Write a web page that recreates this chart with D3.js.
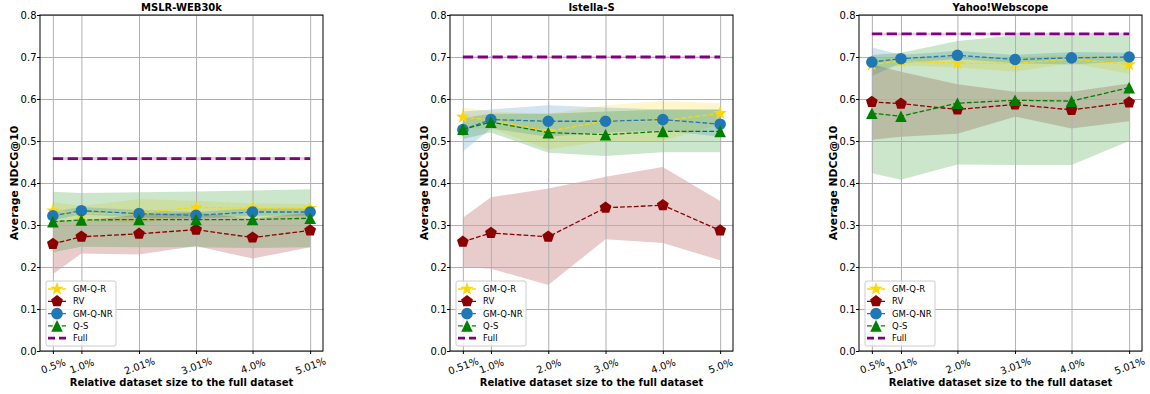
<!DOCTYPE html>
<html>
<head>
<meta charset="utf-8">
<script src="https://cdn.jsdelivr.net/npm/d3@7"></script>
<style>
  body { margin: 0; background: white; }
  svg text { font-family: "DejaVu Sans", sans-serif; }
</style>
</head>
<body>
<script>
// panel titles, x values and tick labels
var panelTitles = ["MSLR-WEB30k", "Istella-S", "Yahoo!Webscope"];
var xValues = [
  [0.5, 1.0, 2.01, 3.01, 4.0, 5.01],
  [0.51, 1.0, 2.0, 3.0, 4.0, 5.0],
  [0.5, 1.01, 2.0, 3.01, 4.0, 5.01]
];
var xTickLabels = [
  ["0.5%", "1.0%", "2.01%", "3.01%", "4.0%", "5.01%"],
  ["0.51%", "1.0%", "2.0%", "3.0%", "4.0%", "5.0%"],
  ["0.5%", "1.01%", "2.0%", "3.01%", "4.0%", "5.01%"]
];
var yTicks = [0.0, 0.1, 0.2, 0.3, 0.4, 0.5, 0.6, 0.7, 0.8];

// GM-Q-R
var gmqrMean = [
  [0.334, 0.327, 0.329, 0.342, 0.340, 0.340],
  [0.557, 0.550, 0.523, 0.548, 0.548, 0.566],
  [0.682, 0.690, 0.685, 0.685, 0.695, 0.682]
];
var gmqrLow = [
  [0.310, 0.310, 0.305, 0.320, 0.318, 0.320],
  [0.530, 0.530, 0.480, 0.500, 0.500, 0.540],
  [0.670, 0.680, 0.675, 0.665, 0.685, 0.660]
];
var gmqrHigh = [
  [0.355, 0.345, 0.362, 0.358, 0.352, 0.350],
  [0.580, 0.570, 0.565, 0.585, 0.595, 0.590],
  [0.695, 0.700, 0.700, 0.700, 0.705, 0.700]
];

// RV
var rvMean = [
  [0.255, 0.272, 0.279, 0.289, 0.270, 0.287],
  [0.260, 0.281, 0.272, 0.341, 0.347, 0.287],
  [0.593, 0.589, 0.575, 0.587, 0.574, 0.592]
];
var rvLow = [
  [0.183, 0.232, 0.230, 0.250, 0.220, 0.247],
  [0.200, 0.196, 0.157, 0.266, 0.257, 0.216],
  [0.503, 0.510, 0.517, 0.558, 0.530, 0.547]
];
var rvHigh = [
  [0.310, 0.310, 0.325, 0.330, 0.315, 0.330],
  [0.317, 0.366, 0.387, 0.415, 0.438, 0.357],
  [0.683, 0.665, 0.635, 0.617, 0.617, 0.637]
];

// GM-Q-NR
var gmqnrMean = [
  [0.322, 0.334, 0.327, 0.323, 0.331, 0.331],
  [0.527, 0.551, 0.547, 0.547, 0.551, 0.540],
  [0.688, 0.696, 0.704, 0.694, 0.698, 0.700]
];
var gmqnrLow = [
  [0.312, 0.325, 0.318, 0.315, 0.322, 0.322],
  [0.475, 0.530, 0.510, 0.520, 0.525, 0.510],
  [0.655, 0.685, 0.695, 0.685, 0.682, 0.690]
];
var gmqnrHigh = [
  [0.332, 0.343, 0.336, 0.331, 0.340, 0.340],
  [0.570, 0.575, 0.585, 0.580, 0.575, 0.575],
  [0.723, 0.705, 0.715, 0.705, 0.712, 0.710]
];

// Q-S
var qsMean = [
  [0.308, 0.312, 0.313, 0.313, 0.313, 0.316],
  [0.528, 0.545, 0.520, 0.515, 0.523, 0.523],
  [0.566, 0.559, 0.590, 0.597, 0.595, 0.627]
];
var qsLow = [
  [0.235, 0.248, 0.247, 0.247, 0.245, 0.247],
  [0.505, 0.520, 0.472, 0.464, 0.473, 0.473],
  [0.423, 0.408, 0.444, 0.443, 0.443, 0.500]
];
var qsHigh = [
  [0.379, 0.376, 0.378, 0.380, 0.382, 0.385],
  [0.555, 0.565, 0.565, 0.570, 0.575, 0.575],
  [0.705, 0.710, 0.738, 0.752, 0.752, 0.752]
];

// Full dataset reference
var fullValue = [0.458, 0.700, 0.755];
var fullSpread = [0.004, 0.002, 0.003];

var seriesNames = ["GM-Q-R", "RV", "GM-Q-NR", "Q-S", "Full"];

var W = 1150, H = 394;
var panelLeft = [40, 450, 859];
var panelWidth = 283;
var plotTop = 15, plotBottom = 351;

var svg = d3.select("body").append("svg")
  .attr("width", W)
  .attr("height", H);

// marker shapes, like matplotlib's * p o ^
function polyPath(pts) {
  return "M" + pts.map(function(p) { return p[0].toFixed(2) + "," + p[1].toFixed(2); }).join("L") + "Z";
}
function starPath(r) {
  var pts = [];
  for (var i = 0; i < 10; i++) {
    var rr = i % 2 == 0 ? r : r * 0.382;
    var a = -Math.PI / 2 + i * Math.PI / 5;
    pts.push([rr * Math.cos(a), rr * Math.sin(a)]);
  }
  return polyPath(pts);
}
function pentPath(r) {
  var pts = [];
  for (var i = 0; i < 5; i++) {
    var a = -Math.PI / 2 + i * 2 * Math.PI / 5;
    pts.push([r * Math.cos(a), r * Math.sin(a)]);
  }
  return polyPath(pts);
}
function triPath(r) {
  return polyPath([[0, -r], [-r, r], [r, r]]);
}
function circPath(r) {
  return "M" + r + ",0A" + r + "," + r + " 0 1,1 " + (-r) + ",0A" + r + "," + r + " 0 1,1 " + r + ",0Z";
}

var series = [
  { name: "GM-Q-R", color: "#FFD700", mean: gmqrMean, low: gmqrLow, high: gmqrHigh, shape: starPath(7.2) },
  { name: "RV", color: "#8B0000", mean: rvMean, low: rvLow, high: rvHigh, shape: pentPath(6.2) },
  { name: "GM-Q-NR", color: "#1f77b4", mean: gmqnrMean, low: gmqnrLow, high: gmqnrHigh, shape: circPath(5.8) },
  { name: "Q-S", color: "#008000", mean: qsMean, low: qsLow, high: qsHigh, shape: triPath(5.8) }
];
var fullColor = "#800080";

panelTitles.forEach(function(title, p) {
  var xs = xValues[p];
  var span = xs[xs.length - 1] - xs[0];
  var x = d3.scaleLinear()
    .domain([xs[0] - span * 0.05, xs[xs.length - 1] + span * 0.05])
    .range([panelLeft[p], panelLeft[p] + panelWidth]);
  var y = d3.scaleLinear().domain([0, 0.8]).range([plotBottom, plotTop]);

  var g = svg.append("g");

  // bands first
  series.forEach(function(s) {
    var area = d3.area()
      .x(function(d, i) { return x(xs[i]); })
      .y0(function(d, i) { return y(s.low[p][i]); })
      .y1(function(d, i) { return y(s.high[p][i]); });
    g.append("path")
      .attr("d", area(xs))
      .attr("fill", s.color)
      .attr("fill-opacity", 0.2);
  });
  var fullArea = d3.area()
    .x(function(d) { return x(d); })
    .y0(y(fullValue[p] - fullSpread[p]))
    .y1(y(fullValue[p] + fullSpread[p]));
  g.append("path")
    .attr("d", fullArea([xs[0], xs[xs.length - 1]]))
    .attr("fill", fullColor)
    .attr("fill-opacity", 0.2);

  // grid
  g.append("g")
    .attr("transform", "translate(0," + plotBottom + ")")
    .call(d3.axisBottom(x).tickValues(xs).tickSize(-(plotBottom - plotTop)).tickFormat(""))
    .call(function(a) { a.select(".domain").remove(); })
    .selectAll("line").attr("stroke", "#b0b0b0").attr("stroke-width", 1);
  g.append("g")
    .attr("transform", "translate(" + panelLeft[p] + ",0)")
    .call(d3.axisLeft(y).tickValues(yTicks).tickSize(-panelWidth).tickFormat(""))
    .call(function(a) { a.select(".domain").remove(); })
    .selectAll("line").attr("stroke", "#b0b0b0").attr("stroke-width", 1);

  // lines and markers
  series.forEach(function(s) {
    var line = d3.line()
      .x(function(d, i) { return x(xs[i]); })
      .y(function(d) { return y(d); });
    g.append("path")
      .attr("d", line(s.mean[p]))
      .attr("fill", "none")
      .attr("stroke", s.color)
      .attr("stroke-width", 1.3)
      .attr("stroke-dasharray", "4.8,2.1");
    g.selectAll(null)
      .data(s.mean[p])
      .enter()
      .append("path")
      .attr("d", s.shape)
      .attr("transform", function(d, i) { return "translate(" + x(xs[i]) + "," + y(d) + ")"; })
      .attr("fill", s.color);
  });

  var fullLine = d3.line()
    .x(function(d) { return x(d); })
    .y(function() { return y(fullValue[p]); });
  g.append("path")
    .attr("d", fullLine([xs[0], xs[xs.length - 1]]))
    .attr("fill", "none")
    .attr("stroke", fullColor)
    .attr("stroke-width", 2.8)
    .attr("stroke-dasharray", "10.3,4.5");

  // axes with ticks
  var xAxis = g.append("g")
    .attr("transform", "translate(0," + plotBottom + ")")
    .call(d3.axisBottom(x).tickValues(xs).tickSize(3).tickPadding(3)
      .tickFormat(function(d, i) { return xTickLabels[p][i]; }));
  xAxis.select(".domain").remove();
  xAxis.selectAll("text")
    .style("font-size", "10px")
    .attr("fill", "#000")
    .attr("dy", null)
    .attr("y", null)
    .attr("text-anchor", "middle")
    .attr("dominant-baseline", "central")
    .attr("transform", "translate(0,15) rotate(-20)");

  var yAxis = g.append("g")
    .attr("transform", "translate(" + panelLeft[p] + ",0)")
    .call(d3.axisLeft(y).tickValues(yTicks).tickSize(3).tickPadding(0.5).tickFormat(d3.format(".1f")));
  yAxis.select(".domain").remove();
  yAxis.selectAll("text").style("font-size", "10px").attr("fill", "#000");

  g.append("rect")
    .attr("x", panelLeft[p])
    .attr("y", plotTop)
    .attr("width", panelWidth)
    .attr("height", plotBottom - plotTop)
    .attr("fill", "none")
    .attr("stroke", "#000")
    .attr("stroke-width", 1);

  // labels
  g.append("text")
    .attr("x", panelLeft[p] + panelWidth / 2)
    .attr("y", 11)
    .attr("text-anchor", "middle")
    .style("font-size", "10px")
    .style("font-weight", "bold")
    .text(title);
  g.append("text")
    .attr("x", panelLeft[p] + panelWidth / 2)
    .attr("y", 386)
    .attr("text-anchor", "middle")
    .style("font-size", "10px")
    .style("font-weight", "bold")
    .text("Relative dataset size to the full dataset");
  g.append("text")
    .attr("transform", "translate(" + (panelLeft[p] - 22.5) + "," + ((plotTop + plotBottom) / 2) + ") rotate(-90)")
    .attr("text-anchor", "middle")
    .style("font-size", "10.8px")
    .style("font-weight", "bold")
    .text("Average NDCG@10");

  // legend
  var lx = panelLeft[p] + 6, ly = 281;
  var legend = g.append("g").attr("transform", "translate(" + lx + "," + ly + ")");
  legend.append("rect")
    .attr("width", 70)
    .attr("height", 65)
    .attr("rx", 2)
    .attr("fill", "white")
    .attr("fill-opacity", 0.8)
    .attr("stroke", "#cccccc")
    .attr("stroke-width", 1);
  seriesNames.forEach(function(name, i) {
    var row = legend.append("g").attr("transform", "translate(0," + (8 + i * 12.3) + ")");
    if (i < 4) {
      var s = series[i];
      row.append("line")
        .attr("x1", 2).attr("x2", 20)
        .attr("stroke", s.color).attr("stroke-width", 1.3)
        .attr("stroke-dasharray", "4.8,2.1");
      row.append("path")
        .attr("d", s.shape)
        .attr("transform", "translate(11,0)")
        .attr("fill", s.color);
    } else {
      row.append("line")
        .attr("x1", 2).attr("x2", 20)
        .attr("stroke", fullColor).attr("stroke-width", 2.8)
        .attr("stroke-dasharray", "7,4");
    }
    row.append("text")
      .attr("x", 27)
      .attr("dy", "0.35em")
      .style("font-size", "8.5px")
      .text(name);
  });
});
</script>
</body>
</html>
